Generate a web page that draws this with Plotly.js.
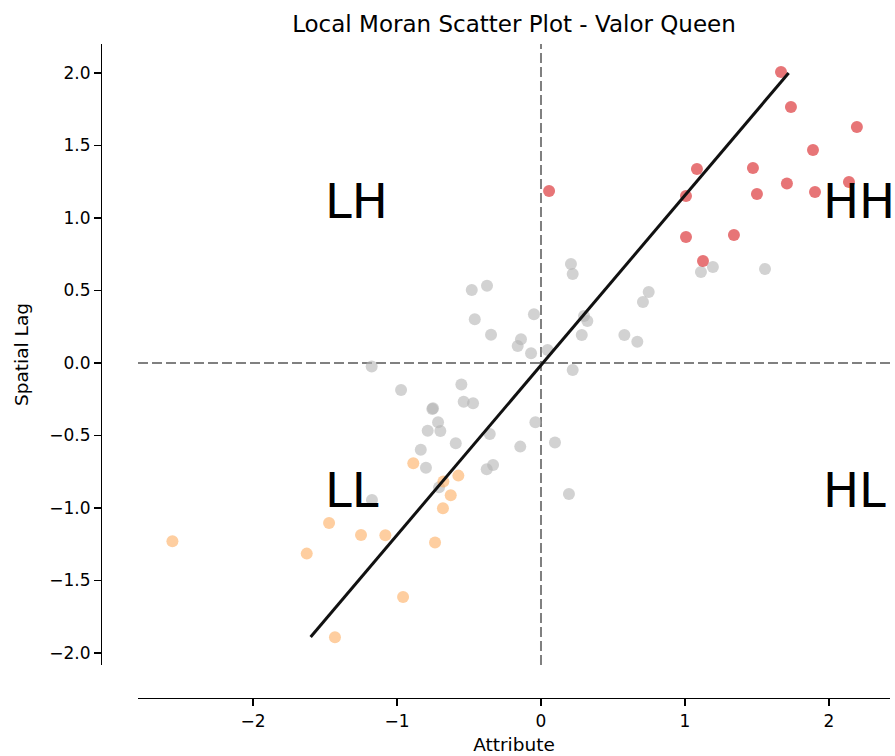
<!DOCTYPE html>
<html>
<head>
<meta charset="utf-8">
<script src="https://cdn.plot.ly/plotly-3.0.1.min.js"></script>
<style>html,body{margin:0;padding:0;background:#fff;}#chart{width:895px;height:756px;}</style>
</head>
<body>
<div id="chart"></div>
<script>
// High-High (HH) points
const hhX = [1.667, 1.736, 2.194, 1.889, 1.083, 1.472, 0.056, 1.007, 1.500, 1.708, 1.903, 2.139, 1.007, 1.340, 1.125];
const hhY = [2.007, 1.766, 1.628, 1.469, 1.338, 1.345, 1.186, 1.152, 1.166, 1.238, 1.179, 1.248, 0.869, 0.883, 0.703];
// Low-Low (LL) points
const llX = [-0.887, -0.574, -0.678, -0.627, -0.681, -0.736, -1.472, -1.250, -1.081, -1.627, -2.560, -0.958, -1.431];
const llY = [-0.692, -0.777, -0.818, -0.913, -1.002, -1.239, -1.103, -1.186, -1.189, -1.315, -1.230, -1.614, -1.892];
// Non-significant points
const nsX = [1.111, 1.194, 1.556, 0.748, 0.708, 0.208, 0.220, -0.481, -0.375, -0.460, -0.049, -0.347, -0.139, -0.162, -0.069, 0.046, 0.299, 0.322, 0.283, 0.579, 0.669, 0.220, -0.972, -0.553, -0.537, -0.472, -0.755, -0.750, -0.715, -0.699, -0.787, -0.592, -0.835, -0.039, 0.097, -0.144, -0.356, -0.333, -0.377, -0.799, -0.708, -1.174, 0.194, -1.176];
const nsY = [0.628, 0.662, 0.648, 0.490, 0.420, 0.683, 0.614, 0.503, 0.533, 0.301, 0.336, 0.195, 0.163, 0.117, 0.067, 0.090, 0.324, 0.290, 0.193, 0.193, 0.147, -0.048, -0.186, -0.149, -0.267, -0.278, -0.317, -0.312, -0.409, -0.469, -0.467, -0.554, -0.598, -0.409, -0.549, -0.577, -0.490, -0.703, -0.733, -0.722, -0.858, -0.945, -0.903, -0.025];
// Regression line end points
const lineX = [-1.60, 1.72];
const lineY = [-1.89, 2.00];
// Quadrant labels
const quadLabels = ["LH", "HH", "LL", "HL"];
const quadX = [-1.507, 1.951, -1.507, 1.951];
const quadY = [1.114, 1.114, -0.879, -0.879];
// Ticks
const xTicks = [-2, -1, 0, 1, 2];
const xTickText = ["\u22122", "\u22121", "0", "1", "2"];
const yTicks = [-2, -1.5, -1, -0.5, 0, 0.5, 1, 1.5, 2];
const yTickText = ["\u22122.0", "\u22121.5", "\u22121.0", "\u22120.5", "0.0", "0.5", "1.0", "1.5", "2.0"];

const FONT = "DejaVu Sans";
const mk = (x, y, color) => ({
  x: x, y: y, type: "scatter", mode: "markers",
  marker: {size: 12, color: color, opacity: 0.6, line: {width: 0}},
  hoverinfo: "skip", showlegend: false
});

const traces = [
  mk(nsX, nsY, "#b4b4b4"),
  mk(hhX, hhY, "#d7191c"),
  mk(llX, llY, "#fdae61"),
  {x: lineX, y: lineY, type: "scatter", mode: "lines",
   line: {color: "#111111", width: 3}, showlegend: false, hoverinfo: "skip"}
];

const annotations = quadLabels.map((t, i) => ({
  text: t, x: quadX[i], y: quadY[i], xref: "x", yref: "y",
  xanchor: "left", yanchor: "middle", showarrow: false, borderpad: 0,
  font: {family: FONT, size: 48, color: "#000"}
}));

const layout = {
  width: 895, height: 756,
  margin: {l: 101, r: 5, t: 44, b: 58},
  paper_bgcolor: "#fff", plot_bgcolor: "#fff",
  font: {family: FONT, color: "#000"},
  title: {text: "Local Moran Scatter Plot - Valor Queen", font: {family: FONT, size: 23, color: "#000"},
          xref: "paper", x: 0.5234, xanchor: "center", yref: "container", y: 1 - 24/756, yanchor: "middle"},
  xaxis: {
    domain: [0.0469, 1], range: [-2.799, 2.424], anchor: "free", position: 0,
    showline: true, linecolor: "#000", linewidth: 1.3, mirror: false,
    ticks: "outside", ticklen: 7, tickwidth: 1.3, tickcolor: "#000",
    tickvals: xTicks, ticktext: xTickText, tickfont: {family: FONT, size: 17, color: "#000"},
    showgrid: false, zeroline: false,
    title: {text: "Attribute", font: {family: FONT, size: 18.5, color: "#000"}, standoff: 8}
  },
  yaxis: {
    domain: [0.0505, 1], range: [-2.083, 2.2], anchor: "free", position: 0,
    showline: true, linecolor: "#000", linewidth: 1.3, mirror: false,
    ticks: "outside", ticklen: 7, tickwidth: 1.3, tickcolor: "#000",
    tickvals: yTicks, ticktext: yTickText, tickfont: {family: FONT, size: 17, color: "#000"},
    showgrid: false, zeroline: false,
    title: {text: "Spatial Lag", font: {family: FONT, size: 18.5, color: "#000"}, standoff: 14}
  },
  shapes: [
    {type: "line", xref: "x", yref: "y domain", x0: 0, x1: 0, y0: 0, y1: 1,
     line: {color: "#808080", width: 2, dash: "10px,4px"}, layer: "below"},
    {type: "line", xref: "x domain", yref: "y", x0: 0, x1: 1, y0: 0, y1: 0,
     line: {color: "#808080", width: 2, dash: "10px,4px"}, layer: "below"}
  ],
  annotations: annotations
};

Plotly.newPlot("chart", traces, layout, {staticPlot: true, displayModeBar: false});
</script>
</body>
</html>
